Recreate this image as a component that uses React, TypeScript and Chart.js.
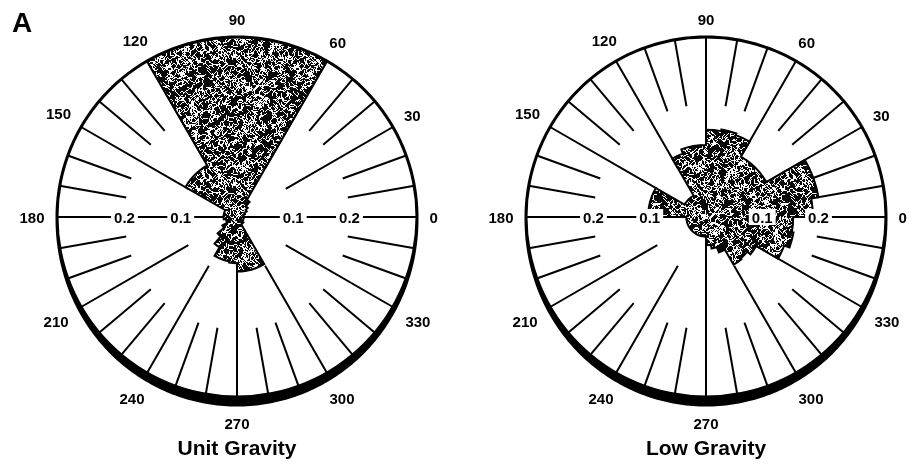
import React, { useEffect, useRef } from "react";
import { Chart, registerables } from "chart.js";

Chart.register(...registerables);

// ---- data (10° bins, starting angle in degrees, counter-clockwise from 0 = east) ----
const BIN_STARTS = [
  0, 10, 20, 30, 40, 50, 60, 70, 80, 90, 100, 110, 120, 130, 140, 150, 160, 170,
  180, 190, 200, 210, 220, 230, 240, 250, 260, 270, 280, 290, 300, 310, 320, 330, 340, 350,
];
const UNIT_GRAVITY = [
  0.01, 0.012, 0.015, 0.02, 0.025, 0.035, 0.32, 0.32, 0.32, 0.32, 0.32, 0.32,
  0.106, 0.106, 0.106, 0.024, 0.024, 0.024, 0.024, 0.02, 0.018, 0.03, 0.045, 0.062,
  0.08, 0.08, 0.082, 0.097, 0.097, 0.097, 0.015, 0.015, 0.012, 0.012, 0.012, 0.012,
];
const LOW_GRAVITY = [
  0.19, 0.203, 0.203, 0.124, 0.124, 0.124, 0.155, 0.158, 0.155, 0.128, 0.128, 0.12,
  0.044, 0.044, 0.044, 0.103, 0.103, 0.103, 0.035, 0.035, 0.035, 0.035, 0.035, 0.035,
  0.035, 0.035, 0.035, 0.05, 0.057, 0.067, 0.098, 0.096, 0.103, 0.148, 0.158, 0.155,
];
const RING_VALUES = [0.1, 0.2];
const RING_LABELS = ["0.1", "0.2"];
const ANGLE_LABELS = [0, 30, 60, 90, 120, 150, 180, 210, 240, 270, 300, 330];
const R_MAX = 0.32;
const TITLES = ["Unit Gravity", "Low Gravity"];
const PANEL_LETTER = "A";

const FONT = '"Liberation Sans", Arial, Helvetica, sans-serif';

// ---- stipple texture (deterministic) ----
let stippleCache: HTMLCanvasElement | null = null;
function getStippleCanvas(): HTMLCanvasElement {
  if (stippleCache) return stippleCache;
  const size = 128;
  const c = document.createElement("canvas");
  c.width = size;
  c.height = size;
  const g = c.getContext("2d")!;
  const img = g.createImageData(size, size);
  const white = new Uint8Array(size * size);
  let seed = 24681357;
  const rnd = () => {
    seed = (seed * 1103515245 + 12345) & 0x7fffffff;
    return seed / 0x7fffffff;
  };
  const dx = [1, 1, 0, -1, -1, -1, 0, 1];
  const dy = [0, 1, 1, 1, 0, -1, -1, -1];
  for (let w = 0; w < 1500; w++) {
    let x = Math.floor(rnd() * size);
    let y = Math.floor(rnd() * size);
    let dir = Math.floor(rnd() * 8);
    for (let s = 0; s < 5; s++) {
      white[((y + size) % size) * size + ((x + size) % size)] = 1;
      const turn = rnd();
      if (turn < 0.3) dir = (dir + 1) % 8;
      else if (turn < 0.6) dir = (dir + 7) % 8;
      x += dx[dir];
      y += dy[dir];
    }
  }
  for (let i = 0; i < size * size; i++) {
    const v = white[i] ? 250 : 10;
    img.data[i * 4] = v;
    img.data[i * 4 + 1] = v;
    img.data[i * 4 + 2] = v;
    img.data[i * 4 + 3] = 255;
  }
  g.putImageData(img, 0, 0);
  stippleCache = c;
  return c;
}

function borderThickness(deg: number): number {
  const s = -Math.sin((deg * Math.PI) / 180);
  return 3 + (s > 0 ? 8 * Math.pow(s, 1.5) : 0);
}

function makeRosePlugin(title: string, letter: string | null) {
  return {
    id: "roseDecor",
    beforeDatasetsDraw(chart: any) {
      const s: any = chart.scales.r;
      const ctx: CanvasRenderingContext2D = chart.ctx;
      const cx = s.xCenter;
      const cy = s.yCenter;
      const R = s.drawingArea;
      ctx.save();
      ctx.fillStyle = "#fff";
      ctx.beginPath();
      ctx.arc(cx, cy, R, 0, Math.PI * 2);
      ctx.fill();
      ctx.strokeStyle = "#000";
      ctx.lineWidth = 2;
      BIN_STARTS.forEach((a) => {
        const inner =
          a % 90 === 0
            ? 0
            : s.getDistanceFromCenterForValue(a % 30 === 0 ? RING_VALUES[0] : RING_VALUES[1]);
        const t = (a * Math.PI) / 180;
        ctx.beginPath();
        ctx.moveTo(cx + inner * Math.cos(t), cy - inner * Math.sin(t));
        ctx.lineTo(cx + R * Math.cos(t), cy - R * Math.sin(t));
        ctx.stroke();
      });
      ctx.restore();
    },
    afterDatasetsDraw(chart: any) {
      const s: any = chart.scales.r;
      const ctx: CanvasRenderingContext2D = chart.ctx;
      const cx = s.xCenter;
      const cy = s.yCenter;
      const R = s.drawingArea;
      ctx.save();

      // outline of the stippled rose
      const arcs: any[] = chart.getDatasetMeta(0).data;
      ctx.strokeStyle = "#000";
      ctx.lineWidth = 2;
      ctx.lineJoin = "miter";
      ctx.beginPath();
      arcs.forEach((a: any, i: number) => {
        const r = a.outerRadius;
        const px = a.x + r * Math.cos(a.startAngle);
        const py = a.y + r * Math.sin(a.startAngle);
        if (i === 0) ctx.moveTo(px, py);
        else ctx.lineTo(px, py);
        ctx.arc(a.x, a.y, r, a.startAngle, a.endAngle);
      });
      ctx.closePath();
      ctx.stroke();

      // ring value labels on the horizontal axis
      ctx.font = `bold 15px ${FONT}`;
      ctx.textAlign = "center";
      ctx.textBaseline = "alphabetic";
      RING_VALUES.forEach((v, i) => {
        const d = s.getDistanceFromCenterForValue(v);
        const txt = RING_LABELS[i];
        const w = ctx.measureText(txt).width;
        [cx + d, cx - d].forEach((x) => {
          ctx.fillStyle = "#fff";
          ctx.fillRect(x - w / 2 - 3, cy - 8, w + 6, 16);
          ctx.fillStyle = "#000";
          ctx.fillText(txt, x, cy + 5.5);
        });
      });

      // outer ring with heavy lower edge
      ctx.fillStyle = "#000";
      ctx.beginPath();
      for (let d = 0; d <= 360; d += 1) {
        const t = (d * Math.PI) / 180;
        const ro = R - 1.5 + borderThickness(d);
        const x = cx + ro * Math.cos(t);
        const y = cy - ro * Math.sin(t);
        if (d === 0) ctx.moveTo(x, y);
        else ctx.lineTo(x, y);
      }
      ctx.closePath();
      ctx.moveTo(cx + R - 1.5, cy);
      ctx.arc(cx, cy, R - 1.5, 0, Math.PI * 2);
      ctx.fill("evenodd");

      // angle labels
      ctx.font = `bold 15px ${FONT}`;
      ANGLE_LABELS.forEach((deg) => {
        const t = (deg * Math.PI) / 180;
        const txt = String(deg);
        const w = ctx.measureText(txt).width;
        const h = 11;
        const ext = Math.abs(Math.cos(t)) * (w / 2) + Math.abs(Math.sin(t)) * (h / 2);
        const r = R - 1.5 + borderThickness(deg) + 11 + ext;
        ctx.fillText(txt, cx + r * Math.cos(t), cy - r * Math.sin(t) + 5.5);
      });

      // title
      ctx.font = `bold 21px ${FONT}`;
      ctx.fillText(title, cx, 455, 122);

      if (letter) {
        ctx.font = `bold 28px ${FONT}`;
        ctx.textAlign = "left";
        ctx.fillText(letter, 12, 32);
      }
      ctx.restore();
    },
  };
}

type PanelProps = {
  values: number[];
  title: string;
  letter: string | null;
  left: number;
  width: number;
  padLeft: number;
  padRight: number;
};

function RosePanel({ values, title, letter, left, width, padLeft, padRight }: PanelProps) {
  const ref = useRef<HTMLCanvasElement>(null);
  useEffect(() => {
    const canvas = ref.current!;
    const pattern = canvas.getContext("2d")!.createPattern(getStippleCanvas(), "repeat")!;
    const n = BIN_STARTS.length;
    // Chart.js draws clockwise starting at east, so feed bins in descending angle order
    const ordered = BIN_STARTS.map((_, i) => values[n - 1 - i]);
    const labels = BIN_STARTS.map((_, i) => {
      const b = BIN_STARTS[n - 1 - i];
      return `${b}–${b + 10}°`;
    });
    const chart = new Chart(canvas, {
      type: "polarArea",
      data: {
        labels,
        datasets: [
          {
            data: ordered,
            backgroundColor: pattern as any,
            borderColor: pattern as any,
            borderWidth: 1,
          },
        ],
      },
      options: {
        responsive: false,
        animation: false,
        events: [],
        layout: { padding: { left: padLeft, right: padRight, top: 37, bottom: 71 } },
        plugins: { legend: { display: false }, tooltip: { enabled: false } },
        scales: {
          r: {
            min: 0,
            max: R_MAX,
            startAngle: 90,
            ticks: { display: false },
            grid: { display: false },
            angleLines: { display: false },
            pointLabels: { display: false },
          },
        },
      } as any,
      plugins: [makeRosePlugin(title, letter) as any],
    });
    return () => chart.destroy();
  }, []);
  return (
    <canvas
      ref={ref}
      width={width}
      height={468}
      style={{ position: "absolute", left, top: 0, width, height: 468 }}
    />
  );
}

export default function App() {
  return (
    <div
      style={{
        position: "absolute",
        left: 0,
        top: 0,
        width: 913,
        height: 468,
        background: "#fff",
        overflow: "hidden",
      }}
    >
      <RosePanel
        values={UNIT_GRAVITY}
        title={TITLES[0]}
        letter={PANEL_LETTER}
        left={0}
        width={456}
        padLeft={57}
        padRight={39}
      />
      <RosePanel
        values={LOW_GRAVITY}
        title={TITLES[1]}
        letter={null}
        left={456}
        width={457}
        padLeft={70}
        padRight={27}
      />
    </div>
  );
}
